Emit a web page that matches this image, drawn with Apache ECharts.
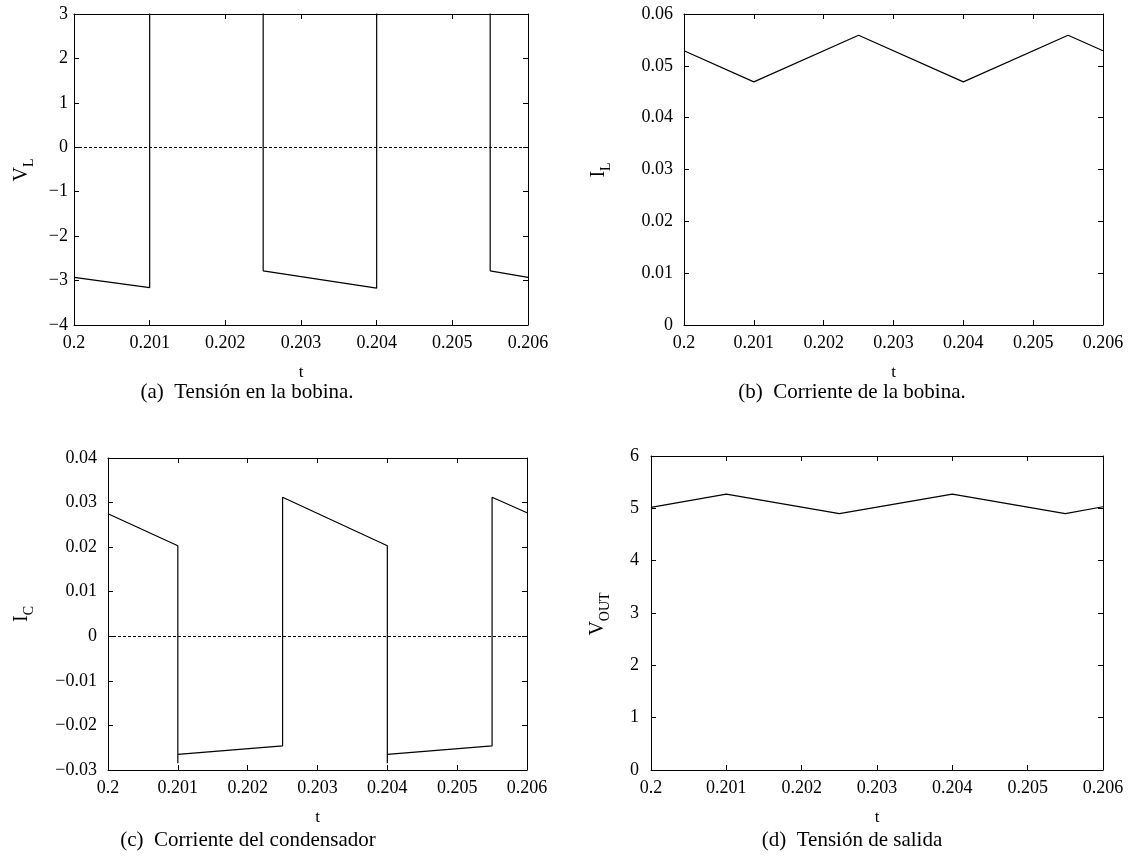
<!DOCTYPE html>
<html>
<head>
<meta charset="utf-8">
<script src="https://cdn.jsdelivr.net/npm/echarts@6/dist/echarts.min.js"></script>
<style>
html,body{margin:0;padding:0;background:#fff;}
#chart{width:1133px;height:856px;}
</style>
</head>
<body>
<div id="chart"></div>
<script>
// ---- Data ----
// (a) Tensión en la bobina
var tA = [0.2, 0.201, 0.201, 0.2025, 0.2025, 0.204, 0.204, 0.2055, 0.2055, 0.206];
var vL = [-2.93, -3.16, 3.3, 3.1, -2.78, -3.17, 3.3, 3.1, -2.78, -2.93];
// (b) Corriente de la bobina
var tB = [0.2, 0.201, 0.2025, 0.204, 0.2055, 0.206];
var iL = [0.0529, 0.0469, 0.0559, 0.0469, 0.0559, 0.0529];
// (c) Corriente del condensador
var tC = [0.2, 0.201, 0.201, 0.201, 0.2025, 0.2025, 0.204, 0.204, 0.204, 0.2055, 0.2055, 0.206];
var iC = [0.0275, 0.0203, -0.0285, -0.0265, -0.0246, 0.0312, 0.0203, -0.0285, -0.0265, -0.0246, 0.0312, 0.0277];
// (d) Tensión de salida
var tD = [0.2, 0.201, 0.2025, 0.204, 0.2055, 0.206];
var vOut = [5.02, 5.27, 4.9, 5.27, 4.9, 5.03];

var xTicks = {min: 0.2, max: 0.206, interval: 0.001};
var yTicksA = {min: -4, max: 3, interval: 1};
var yTicksB = {min: 0, max: 0.06, interval: 0.01};
var yTicksC = {min: -0.03, max: 0.04, interval: 0.01};
var yTicksD = {min: 0, max: 6, interval: 1};

var captions = ['(a)  Tensión en la bobina.', '(b)  Corriente de la bobina.', '(c)  Corriente del condensador', '(d)  Tensión de salida'];
var yNames = [['V', 'L'], ['I', 'L'], ['I', 'C'], ['V', 'OUT']];

// ---- Layout ----
var FONT = 'Liberation Serif';
var grids = [
  {left: 74, top: 14, width: 454, height: 311},
  {left: 684, top: 14, width: 419, height: 311},
  {left: 108, top: 458, width: 419, height: 312},
  {left: 651, top: 456, width: 452, height: 314}
];
var yLabelMargins = [6, 11, 11, 12];
var yNamePos = [[22, 170], [599, 170], [22, 614], [598, 614]];
var capPos = [[247, 392], [852, 392], [248, 840], [852, 840]];

function pairs(xs, ys) { return xs.map(function (x, i) { return [x, ys[i]]; }); }
function fmtNum(v) { return (v === 0 ? '0' : String(+v.toFixed(4))).replace('-', '\u2212'); }

var panels = [
  {t: tA, v: vL, y: yTicksA},
  {t: tB, v: iL, y: yTicksB},
  {t: tC, v: iC, y: yTicksC},
  {t: tD, v: vOut, y: yTicksD}
];

var xAxes = [], yAxes = [], series = [], graphics = [];
var lineCol = '#000';
panels.forEach(function (p, i) {
  xAxes.push({
    type: 'value', gridIndex: i, position: 'bottom',
    min: xTicks.min, max: xTicks.max, interval: xTicks.interval,
    name: 't', nameLocation: 'middle', nameGap: 39,
    nameTextStyle: {fontFamily: FONT, fontSize: 17, color: '#000'},
    axisLine: {show: true, onZero: false, lineStyle: {color: lineCol, width: 1}},
    axisTick: {show: true, inside: true, length: 5, lineStyle: {color: lineCol}},
    axisLabel: {show: true, margin: 9, fontFamily: FONT, fontSize: 18, color: '#000',
      formatter: function (v) { return String(+v.toFixed(3)); }},
    splitLine: {show: false}
  });
  xAxes.push({
    type: 'value', gridIndex: i, position: 'top',
    min: xTicks.min, max: xTicks.max, interval: xTicks.interval,
    axisLine: {show: true, onZero: false, lineStyle: {color: lineCol, width: 1}},
    axisTick: {show: true, inside: true, length: 5, lineStyle: {color: lineCol}},
    axisLabel: {show: false}, splitLine: {show: false}
  });
  yAxes.push({
    type: 'value', gridIndex: i, position: 'left',
    min: p.y.min, max: p.y.max, interval: p.y.interval,
    axisLine: {show: true, onZero: false, lineStyle: {color: lineCol, width: 1}},
    axisTick: {show: true, inside: true, length: 5, lineStyle: {color: lineCol}},
    axisLabel: {show: true, margin: yLabelMargins[i], fontFamily: FONT, fontSize: 18, color: '#000',
      formatter: fmtNum},
    splitLine: {show: false}
  });
  yAxes.push({
    type: 'value', gridIndex: i, position: 'right',
    min: p.y.min, max: p.y.max, interval: p.y.interval,
    axisLine: {show: true, onZero: false, lineStyle: {color: lineCol, width: 1}},
    axisTick: {show: true, inside: true, length: 5, lineStyle: {color: lineCol}},
    axisLabel: {show: false}, splitLine: {show: false}
  });
  series.push({
    type: 'line', xAxisIndex: 2 * i, yAxisIndex: 2 * i,
    data: pairs(p.t, p.v), showSymbol: false, symbol: 'none', clip: true,
    lineStyle: {color: '#000', width: 1.2}, animation: false, silent: true,
    markLine: {
      silent: true, symbol: ['none', 'none'], animation: false,
      label: {show: false},
      lineStyle: {color: '#000', type: [3, 2], width: 1},
      data: [{yAxis: 0}]
    }
  });
  graphics.push({
    type: 'text', x: yNamePos[i][0], y: yNamePos[i][1], rotation: Math.PI / 2,
    style: {
      text: '{v|' + yNames[i][0] + '}{s|' + yNames[i][1] + '}',
      align: 'center', verticalAlign: 'middle', fill: '#000',
      rich: {
        v: {fontFamily: FONT, fontSize: 20, lineHeight: 28, verticalAlign: 'middle', fill: '#000'},
        s: {fontFamily: FONT, fontSize: 14, lineHeight: 28, verticalAlign: 'bottom', fill: '#000'}
      }
    }
  });
  graphics.push({
    type: 'text', x: capPos[i][0], y: capPos[i][1],
    style: {text: captions[i], align: 'center', verticalAlign: 'middle',
      fontFamily: FONT, fontSize: 21, fill: '#000'}
  });
});

var chart = echarts.init(document.getElementById('chart'), null, {renderer: 'canvas'});
chart.setOption({
  animation: false,
  backgroundColor: '#fff',
  grid: grids,
  xAxis: xAxes,
  yAxis: yAxes,
  series: series,
  graphic: graphics
});
</script>
</body>
</html>
